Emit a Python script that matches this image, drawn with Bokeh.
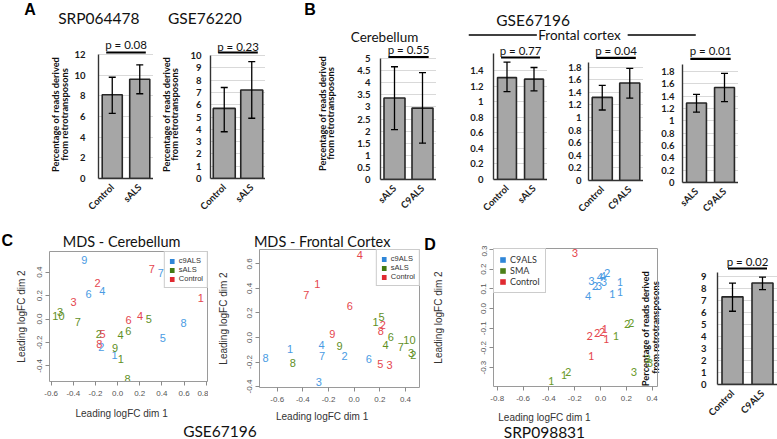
import math
from bokeh.plotting import figure
from bokeh.models import (Range1d, FactorRange, ColumnDataSource, Whisker, TeeHead, Label,
                          Legend, LegendItem, FixedTicker, NumeralTickFormatter, Column)
from bokeh.core.properties import value
from bokeh.embed import file_html
from bokeh.resources import INLINE

# ---------------- data: bar panels ----------------
a1_cats = ["Control", "sALS"]
a1_mean = [8.1, 9.6]
a1_lo = [6.3, 8.2]
a1_hi = [9.8, 11.0]
a1_p = "p = 0.08"
a1_ticks = [0, 2, 4, 6, 8, 10, 12]

a2_cats = ["Control", "sALS"]
a2_mean = [5.7, 7.2]
a2_lo = [3.8, 4.9]
a2_hi = [7.4, 9.5]
a2_p = "p = 0.23"
a2_ticks = [0, 1, 2, 3, 4, 5, 6, 7, 8, 9, 10]

b1_cats = ["sALS", "C9ALS"]
b1_mean = [3.37, 2.95]
b1_lo = [2.06, 1.50]
b1_hi = [4.66, 4.42]
b1_p = "p = 0.55"
b1_ticks = [0, 0.5, 1, 1.5, 2, 2.5, 3, 3.5, 4, 4.5, 5]

b2_cats = ["Control", "sALS"]
b2_mean = [1.31, 1.29]
b2_lo = [1.13, 1.14]
b2_hi = [1.51, 1.44]
b2_p = "p = 0.77"
b2_ticks = [0, 0.2, 0.4, 0.6, 0.8, 1, 1.2, 1.4]

b3_cats = ["Control", "C9ALS"]
b3_mean = [1.32, 1.55]
b3_lo = [1.12, 1.31]
b3_hi = [1.51, 1.78]
b3_p = "p = 0.04"
b3_ticks = [0, 0.2, 0.4, 0.6, 0.8, 1, 1.2, 1.4, 1.6, 1.8]

b4_cats = ["sALS", "C9ALS"]
b4_mean = [1.29, 1.54]
b4_lo = [1.14, 1.31]
b4_hi = [1.43, 1.77]
b4_p = "p = 0.01"
b4_ticks = [0, 0.2, 0.4, 0.6, 0.8, 1, 1.2, 1.4, 1.6, 1.8]

d_cats = ["Control", "C9ALS"]
d_mean = [7.3, 8.45]
d_lo = [6.1, 7.9]
d_hi = [8.45, 8.95]
d_p = "p = 0.02"
d_ticks = [0, 1, 2, 3, 4, 5, 6, 7, 8, 9]

# ---------------- data: MDS panels ----------------
cl_lab = ["9", "7", "6", "4", "8", "5", "2", "1",
          "3", "10", "7", "5", "2", "4", "6", "9", "1", "8",
          "7", "1", "2", "3", "6", "4", "5", "8"]
cl_grp = ["c9ALS"] * 8 + ["sALS"] * 10 + ["Control"] * 8
cl_x = [-0.30, 0.39, -0.263, -0.137, 0.595, 0.409, -0.146, -0.028,
        -0.52, -0.534, -0.36, 0.282, -0.17, 0.026, 0.096, -0.022, 0.03, 0.09,
        0.31, 0.752, -0.18, -0.398, 0.10, 0.204, -0.136, -0.166]
cl_y = [0.505, 0.39, 0.217, 0.236, -0.033, -0.16, -0.24, -0.306,
        0.06, 0.024, -0.024, 0.0, -0.13, -0.14, -0.10, -0.25, -0.338, -0.513,
        0.43, 0.18, 0.307, 0.145, -0.01, 0.03, -0.126, -0.216]

cr_lab = ["1", "4", "7", "2", "6", "3", "8",
          "1", "5", "6", "10", "4", "7", "3", "2", "9", "8",
          "4", "1", "7", "6", "2", "8", "9", "5", "3"]
cr_grp = ["c9ALS"] * 7 + ["sALS"] * 10 + ["Control"] * 9
cr_x = [-0.50, -0.255, -0.25, -0.075, 0.114, -0.276, -0.69,
        0.166, 0.213, 0.285, 0.431, 0.244, 0.363, 0.444, 0.46, -0.114, -0.478,
        0.044, -0.288, -0.374, -0.034, 0.223, 0.207, -0.171, 0.203, 0.275]
cr_y = [-0.093, -0.06, -0.147, -0.147, -0.174, -0.365, -0.165,
        0.125, 0.166, 0.008, -0.024, -0.065, -0.079, -0.125, -0.141, -0.071, -0.207,
        0.67, 0.433, 0.343, 0.256, 0.098, 0.049, 0.03, -0.22, -0.223]

dm_lab = ["3", "4", "4", "2", "2", "3", "3", "1", "1", "1", "4",
          "2", "2", "1", "3", "3", "3", "2", "1", "1",
          "3", "2", "2", "2", "1", "1", "1"]
dm_grp = ["C9ALS"] * 11 + ["SMA"] * 9 + ["Control"] * 7
dm_x = [-0.07, -0.005, 0.018, 0.052, -0.044, -0.013, 0.026, 0.15, 0.09, 0.15, -0.095,
        0.206, 0.237, 0.119, 0.366, 0.382, 0.258, -0.25, -0.284, -0.382,
        -0.199, -0.083, -0.026, 0.013, 0.033, 0.044, -0.072]
dm_y = [0.142, 0.162, 0.164, 0.181, 0.117, 0.117, 0.137, 0.134, 0.075, 0.083, 0.066,
        -0.081, -0.073, -0.137, -0.255, -0.276, -0.32, -0.323, -0.34, -0.369,
        0.283, -0.141, -0.125, -0.117, -0.103, -0.157, -0.242]

c_groups = ["c9ALS", "sALS", "Control"]
d_groups = ["C9ALS", "SMA", "Control"]
mds_x_ticks_c = [-0.6, -0.4, -0.2, 0.0, 0.2, 0.4, 0.6, 0.8]
mds_y_ticks_c = [-0.4, -0.2, 0.0, 0.2, 0.4]
mds_x_ticks_cr = [-0.6, -0.4, -0.2, 0.0, 0.2, 0.4]
mds_y_ticks_cr = [-0.4, -0.2, 0.0, 0.2, 0.4, 0.6]
mds_x_ticks_d = [-0.8, -0.6, -0.4, -0.2, 0.0, 0.2, 0.4]
mds_y_ticks_d = [-0.3, -0.2, -0.1, 0.0, 0.1, 0.2, 0.3]

# ---------------- styles ----------------
PT_COL = {"c9ALS": "#4a9be3", "C9ALS": "#4a9be3", "sALS": "#5f8f1f", "SMA": "#6a9a2a",
          "Control": "#e5464e"}
LEG_COL = {"c9ALS": "#2f86d8", "C9ALS": "#2f86d8", "sALS": "#437a12", "SMA": "#4d8018",
           "Control": "#e02a31"}
BAR_FILL = "#a6a6a6"
BAR_LINE = "#262626"
FONT = "Lato"
RFONT = "Liberation Sans"
BL = 42   # common left border of every canvas (the column aligns them)
BR = 0    # common right border

figs = []


def place(p, left, top):
    p.styles = {"position": "absolute", "left": f"{int(left)}px", "top": f"{int(top)}px"}


def bar_panel(cats, mean, lo, hi, ptxt, ticks, ymax_axis, fl, fr, ftop, zero, axtop, std,
              bw, pline_px, ptext_px, phalf=0.72, bb=58):
    pxu = (zero - axtop) / ymax_axis
    y_end = (zero - ftop) / pxu
    bt = 2
    W = int(round(fr - fl + BL + BR))
    H = int(round(zero - ftop + bt + bb))
    p = figure(width=W, height=H, x_range=FactorRange(*cats), y_range=Range1d(0, y_end),
               output_backend="svg", toolbar_location=None,
               min_border_left=BL, min_border_right=BR, min_border_top=bt, min_border_bottom=bb)
    place(p, fl - BL, ftop - bt)
    p.background_fill_color = None
    p.border_fill_color = None
    p.outline_line_color = None
    src = ColumnDataSource(dict(cat=cats, mean=mean, lo=lo, hi=hi))
    p.vbar(x="cat", top="mean", bottom=0, width=bw, source=src,
           fill_color=BAR_FILL, line_color=BAR_LINE, line_width=1.6)
    w = Whisker(base="cat", upper="hi", lower="lo", source=src, line_color="black",
                line_width=1.3, level="overlay")
    w.upper_head = TeeHead(size=7, line_color="black", line_width=1.3)
    w.lower_head = TeeHead(size=7, line_color="black", line_width=1.3)
    p.add_layout(w)
    yl = (zero - pline_px) / pxu
    p.segment(x0=[1 - phalf], y0=[yl], x1=[1 + phalf], y1=[yl], line_color="black",
              line_width=2.2)
    yt = (zero - ptext_px) / pxu
    p.add_layout(Label(x=1, y=yt, text=ptxt, text_align="center", text_baseline="middle",
                       text_font=FONT, text_font_size="11.5px", text_color="#111111"))
    tk = FixedTicker(ticks=ticks)
    p.yaxis.ticker = tk
    p.ygrid.ticker = tk
    p.yaxis.bounds = (0, ymax_axis)
    p.yaxis.formatter = NumeralTickFormatter(format="0.[0]")
    p.xgrid.grid_line_color = None
    p.ygrid.grid_line_color = "#d9d9d9"
    p.ygrid.grid_line_width = 1
    for ax in (p.xaxis, p.yaxis):
        ax.major_tick_out = 0
        ax.major_tick_in = 0
        ax.minor_tick_out = 0
        ax.minor_tick_in = 0
        ax.axis_line_color = "#333333"
        ax.axis_line_width = 1.4
        ax.major_label_text_font = FONT
        ax.major_label_text_font_style = "bold"
        ax.major_label_text_color = "#1a1a1a"
    p.yaxis.major_label_text_font_size = "9.5px"
    p.yaxis.major_label_standoff = std
    p.xaxis.major_label_text_font_size = "9.5px"
    p.xaxis.major_label_orientation = math.pi / 4
    p.xaxis.major_label_standoff = 7
    figs.append(p)
    return p


def mds_panel(xs, ys, labs, grps, groups, xr, yr, xticks, yticks, fl, fr, ft, fb,
              pfont, psize, leg_loc, leg_font, leg_size, leg_pad, leg_glyph, leg_lh):
    bt, bb = 3, 28
    W = int(round(fr - fl + BL + BR))
    H = int(round(fb - ft + bt + bb))
    p = figure(width=W, height=H, x_range=Range1d(*xr), y_range=Range1d(*yr),
               output_backend="svg", toolbar_location=None,
               min_border_left=BL, min_border_right=BR, min_border_top=bt, min_border_bottom=bb)
    place(p, fl - BL, ft - bt)
    p.background_fill_color = None
    p.border_fill_color = None
    p.outline_line_color = "#9a9a9a"
    p.outline_line_width = 1
    p.grid.grid_line_color = None
    src = ColumnDataSource(dict(x=xs, y=ys, lab=labs, col=[PT_COL[g] for g in grps]))
    p.text(x="x", y="y", text="lab", text_color="col", source=src,
           text_font=value(pfont), text_font_size=psize,
           text_align="center", text_baseline="middle")
    p.xaxis.ticker = FixedTicker(ticks=xticks)
    p.yaxis.ticker = FixedTicker(ticks=yticks)
    p.xaxis.bounds = (xticks[0], xticks[-1])
    p.yaxis.bounds = (yticks[0], yticks[-1])
    for ax in (p.xaxis, p.yaxis):
        ax.formatter = NumeralTickFormatter(format="0.0")
        ax.major_tick_out = 4
        ax.major_tick_in = 0
        ax.minor_tick_out = 0
        ax.minor_tick_in = 0
        ax.axis_line_color = "#9a9a9a"
        ax.major_tick_line_color = "#8a8a8a"
        ax.major_label_text_font = RFONT
        ax.major_label_text_font_size = "8px"
        ax.major_label_text_color = "#555555"
    p.xaxis.major_label_standoff = 5
    p.yaxis.major_label_standoff = 3
    p.yaxis.major_label_orientation = "vertical"
    items = []
    for g in groups:
        gx = [x for x, gg in zip(xs, grps) if gg == g]
        gy = [y for y, gg in zip(ys, grps) if gg == g]
        # zero-size rectangles at the group's points: invisible, but give the legend its swatch
        r = p.rect(x=gx, y=gy, width=0, height=0, fill_color=LEG_COL[g], line_color=None)
        items.append(LegendItem(label=g, renderers=[r]))
    leg = Legend(items=items, location=leg_loc, margin=0, padding=leg_pad, spacing=0,
                 glyph_width=leg_glyph, glyph_height=leg_glyph, label_height=leg_lh,
                 label_standoff=4, label_text_font=leg_font, label_text_font_size=leg_size,
                 label_text_color="#333333", border_line_color="#9a9a9a",
                 border_line_width=1, background_fill_color="white",
                 background_fill_alpha=1.0)
    p.add_layout(leg)
    figs.append(p)
    return p


# ---------------- overlay (titles, panel letters, axis titles) ----------------
ov = figure(width=777 + BL + BR, height=439, x_range=Range1d(0, 777), y_range=Range1d(439, 0),
            x_axis_type=None, y_axis_type=None, output_backend="svg", toolbar_location=None,
            min_border_left=BL, min_border_right=BR, min_border_top=0, min_border_bottom=0)
ov.background_fill_color = None
ov.border_fill_color = None
ov.outline_line_color = None
place(ov, -BL, 0)


def lab(x, y, t, font=FONT, size="15.5px", style="normal", align="center", angle=0.0,
        color="#111111"):
    ov.add_layout(Label(x=x, y=y, text=t, text_font=font, text_font_size=size,
                        text_font_style=style, text_align=align, text_baseline="middle",
                        angle=angle, text_color=color))


for t, x, y in [("A", 25, 9), ("B", 321, 9), ("C", 1, 240), ("D", 448, 244)]:
    lab(x, y, t, font=RFONT, size="16px", style="bold", align="left", color="black")

lab(104, 17, "SRP064478")
lab(216, 17, "GSE76220")
lab(563, 19, "GSE67196")
lab(406, 36, "Cerebellum", size="13.5px")
lab(612, 34, "Frontal cortex", size="13.5px")
ov.segment(x0=[495, 663], y0=[34.5, 34.5], x1=[567, 735], y1=[34.5, 34.5],
           line_color="black", line_width=1.4)
lab(128, 241, "MDS - Cerebellum", size="14.5px")
lab(340, 241, "MDS - Frontal Cortex", size="14.5px")
lab(232, 430, "GSE67196")
lab(575, 431, "SRP098831")

ylab1 = "Percentage of reads derived"
ylab2 = "from retrotransposons"
for (x1, x2, y, l1) in [(58, 68, 114, ylab1), (175, 184, 114, ylab1), (340, 349, 113, ylab1),
                        (682, 692, 327, "Percentage  of reads derived")]:
    lab(x1, y, l1, size="9.3px", style="bold", angle=math.pi / 2)
    lab(x2, y, ylab2, size="9.3px", style="bold", angle=math.pi / 2)

for (x, y) in [(22, 316), (236, 318), (463, 317)]:
    lab(x, y, "Leading logFC dim 2", font=RFONT, size="10px", angle=math.pi / 2,
        color="#333333")
for (x, y) in [(128, 413), (340, 416), (575, 417)]:
    lab(x, y, "Leading logFC dim 1", font=RFONT, size="10px", color="#333333")

# ---------------- bar panels ----------------
bar_panel(a1_cats, a1_mean, a1_lo, a1_hi, a1_p, a1_ticks, 12, 98, 153, 38, 178, 54, 13,
          0.73, 52, 44)
bar_panel(a2_cats, a2_mean, a2_lo, a2_hi, a2_p, a2_ticks, 10, 210, 265, 38, 178, 55, 9,
          0.8, 52, 46)
bar_panel(b1_cats, b1_mean, b1_lo, b1_hi, b1_p, b1_ticks, 5, 380, 436, 40, 179, 58, 10,
          0.75, 56.5, 49)
bar_panel(b2_cats, b2_mean, b2_lo, b2_hi, b2_p, b2_ticks, 1.62, 493, 547, 40, 179, 53, 10,
          0.7, 57, 50)
bar_panel(b3_cats, b3_mean, b3_lo, b3_hi, b3_p, b3_ticks, 1.88, 588, 643, 40, 180,
          180 - 1.88 * (113.3 / 1.8), 7, 0.73, 57.3, 50)
bar_panel(b4_cats, b4_mean, b4_lo, b4_hi, b4_p, b4_ticks, 1.92, 682, 738, 40, 182,
          182 - 1.92 * (111 / 1.8), 8, 0.71, 58.3, 50)
bar_panel(d_cats, d_mean, d_lo, d_hi, d_p, d_ticks, 9.33, 717, 777, 254, 384, 272, 11,
          0.7, 268, 261, phalf=0.65, bb=50)

# ---------------- MDS panels ----------------
mds_panel(cl_x, cl_y, cl_lab, cl_grp, c_groups, (-0.615, 0.821), (-0.534, 0.577),
          mds_x_ticks_c, mds_y_ticks_c, 49, 208, 251, 381, RFONT, "11px", "top_right",
          RFONT, "7.5px", 4, 6, 8)
mds_panel(cr_x, cr_y, cr_lab, cr_grp, c_groups, (-0.738, 0.517), (-0.408, 0.718),
          mds_x_ticks_cr, mds_y_ticks_cr, 259, 420, 249, 387, RFONT, "11px", "top_right",
          RFONT, "7.5px", 4, 6, 8)
mds_panel(dm_x, dm_y, dm_lab, dm_grp, d_groups, (-0.829, 0.449), (-0.396, 0.305),
          mds_x_ticks_d, mds_y_ticks_d, 493, 658, 248, 386, FONT, "11px", "top_left",
          FONT, "9px", 5, 7, 10)

root = Column(children=[ov] + figs, width=777, height=439, sizing_mode="fixed",
              styles={"position": "absolute", "left": "0px", "top": "0px"})

open("out.html", "w").write(file_html(root, INLINE))
